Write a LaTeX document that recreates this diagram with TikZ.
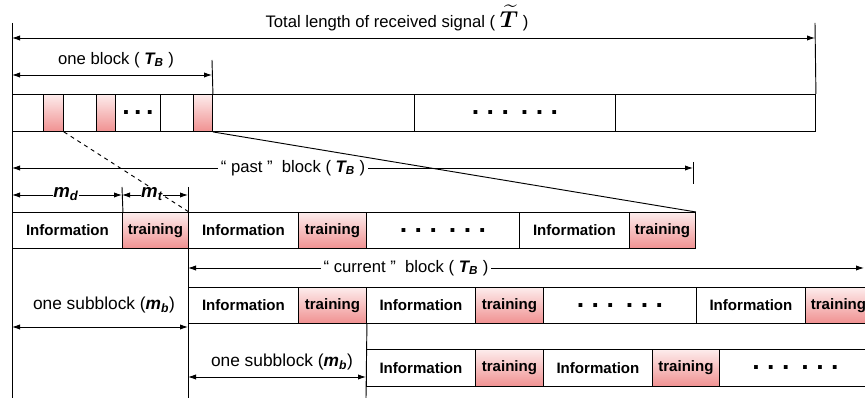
\documentclass[tikz,border=0pt]{standalone}
\usepackage{fontspec}
\setmainfont{Liberation Sans}
\usepackage{amsmath,bm}
\usetikzlibrary{arrows.meta}
\definecolor{pinktop}{RGB}{253,236,236}
\definecolor{pinkbot}{RGB}{240,145,145}
\newcommand\mysym[2]{{\bfseries\itshape #1\textsubscript{\bfseries\itshape #2}}}
\newcommand\myTB{\mysym{T}{B}}
\newcommand\cellat[7]{\node[#1, minimum width={(#4-#3)*0.75pt}, minimum height={(#6-#5)*0.75pt}] (#2) at (#3,#5) {#7};}
\begin{document}
\begin{tikzpicture}[x=0.75pt,y=-0.75pt,
  ln/.style={line width=0.7pt, black},
  cellbase/.style={draw=black, line width=0.7pt, inner sep=0pt, anchor=north west, font=\fontsize{11.3}{13}\selectfont\bfseries},
  blank/.style={cellbase, fill=white},
  pinkc/.style={cellbase, top color=pinktop, bottom color=pinkbot},
  dotsbig/.style={font=\fontsize{20}{20}\selectfont\bfseries},
  dim/.style={line width=0.7pt, {Latex[length=6pt,width=4pt]}-{Latex[length=6pt,width=4pt]}},
  lab/.style={font=\fontsize{12.5}{14}\selectfont, inner sep=1pt},
  sublab/.style={font=\fontsize{13}{15}\selectfont, inner sep=1pt},
  mlab/.style={font=\fontsize{14}{15}\selectfont, inner sep=0.5pt, fill=white},
]
\clip (0,0) rectangle (865,398);
\fill[white] (0,0) rectangle (865,398);

% row 1 : received signal
\cellat{blank}{a1}{12}{43}{94}{131}{}
\cellat{pinkc}{a2}{43}{63}{94}{131}{}
\cellat{blank}{a3}{63}{96}{94}{131}{}
\cellat{pinkc}{a4}{96}{115}{94}{131}{}
\cellat{blank}{a5}{115}{160}{94}{131}{}
\cellat{blank}{a6}{160}{193}{94}{131}{}
\cellat{pinkc}{a7}{193}{212}{94}{131}{}
\cellat{blank}{a8}{212}{414}{94}{131}{}
\cellat{blank}{a9}{414}{615}{94}{131}{}
\cellat{blank}{a10}{615}{815}{94}{131}{}
\node[dotsbig] (dA) at (a5.center) {.\,.\,.};
\node[dotsbig] (dB) at (a9.center) {.\ .\ .\hspace{0.45em}.\ .\ .};

% row 2 : past block
\cellat{blank}{b1}{12}{122}{212}{248}{Information}
\cellat{pinkc}{b2}{122}{188}{212}{248}{training}
\cellat{blank}{b3}{188}{298}{212}{248}{Information}
\cellat{pinkc}{b4}{298}{366}{212}{248}{training}
\cellat{blank}{b5}{366}{519}{212}{248}{}
\cellat{blank}{b6}{519}{629}{212}{248}{Information}
\cellat{pinkc}{b7}{629}{695}{212}{248}{training}
\node[dotsbig] (dC) at (b5.center) {.\ .\ .\hspace{0.45em}.\ .\ .};

% row 3 : current block
\cellat{blank}{c1}{188}{298}{287}{323}{Information}
\cellat{pinkc}{c2}{298}{366}{287}{323}{training}
\cellat{blank}{c3}{366}{475}{287}{323}{Information}
\cellat{pinkc}{c4}{475}{543}{287}{323}{training}
\cellat{blank}{c5}{543}{696}{287}{323}{}
\cellat{blank}{c6}{696}{805}{287}{323}{Information}
\cellat{pinkc}{c7}{805}{871}{287}{323}{training}
\node[dotsbig] (dD) at (c5.center) {.\ .\ .\hspace{0.45em}.\ .\ .};

% row 4
\cellat{blank}{d1}{366}{475}{349}{386}{Information}
\cellat{pinkc}{d2}{475}{543}{349}{386}{training}
\cellat{blank}{d3}{543}{652}{349}{386}{Information}
\cellat{pinkc}{d4}{652}{719}{349}{386}{training}
\cellat{blank}{d5}{719}{871}{349}{386}{}
\node[dotsbig] (dE) at (d5.center) {.\ .\ .\hspace{0.45em}.\ .\ .};

% coordinates
\coordinate (L0) at (12,23);
\coordinate (Lb) at (12,398);
\coordinate (R0) at (815,23);
\coordinate (tL) at (12,38);
\coordinate (tR) at (815,38);
\coordinate (bL) at (12,75);
\coordinate (bR) at (212,75);
\coordinate (bT) at (212,60);
\coordinate (pL) at (12,168);
\coordinate (pR) at (693,168);
\coordinate (pT1) at (693,162);
\coordinate (pT2) at (693,184);
\coordinate (mL) at (12,195);
\coordinate (mM) at (122,195);
\coordinate (mR) at (188,195);
\coordinate (mT1) at (122,187);
\coordinate (mT2) at (188,187);
\coordinate (mB2) at (188,398);
\coordinate (cL) at (188,268);
\coordinate (cR) at (864,268);
\coordinate (s1L) at (12,327);
\coordinate (s1R) at (188,327);
\coordinate (s2L) at (188,377);
\coordinate (s2R) at (366,377);
\coordinate (vB) at (366,398);

% vertical lines
\draw[ln] (L0) -- (Lb);
\draw[ln] (R0) -- (a10.north east);
\draw[ln] (bT) -- (a7.north east);
\draw[ln] (pT1) -- (pT2);
\draw[ln] (mT1) -- (b1.north east);
\draw[ln] (mT2) -- (mB2);
\draw[ln] (c2.south east) -- (vB);

% zoom lines
\draw[ln, dashed] (a2.south east) -- (b2.north east);
\draw[ln] (a7.south east) -- (b7.north east);

% dimension arrows
\draw[dim] (tL) -- (tR);
\draw[dim] (bL) -- (bR);
\draw[dim] (pL) -- (pR);
\draw[dim] (mL) -- (mM);
\draw[dim] (mM) -- (mR);
\draw[dim] (cL) -- (cR);
\draw[dim] (s1L) -- (s1R);
\draw[dim] (s2L) -- (s2R);

% labels
\node[lab] (title) at (397,18) {Total length of received signal ( {\fontsize{18}{18}\selectfont$\boldsymbol{\widetilde{T}}$} )};
\node[lab] (blk) at (116,60) {one block ( \myTB\ )};
\node[lab, fill=white, inner xsep=2pt] (past) at (293,168) {“ past ”\ \ block ( \myTB\ )};
\node[lab, fill=white, inner xsep=2pt] (curr) at (406,268) {“ current ”\ \ block ( \myTB\ )};
\node[mlab] (md) at (66,194) {\mysym{m}{d}};
\node[mlab] (mt) at (152,194) {\mysym{m}{t}};
\node[sublab] (sb1) at (104,305) {one subblock (\mysym{m}{b})};
\node[sublab] (sb2) at (282,362) {one subblock (\mysym{m}{b})};
\end{tikzpicture}
\end{document}
